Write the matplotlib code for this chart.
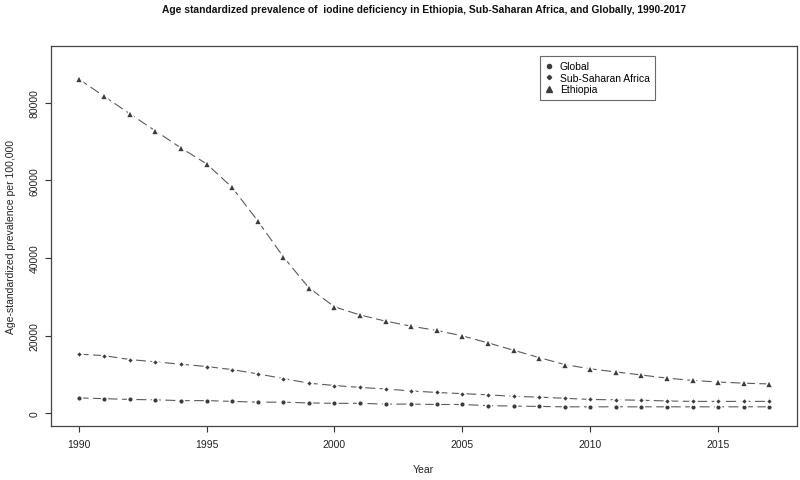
#!/usr/bin/env python3

import numpy as np
import matplotlib
matplotlib.use("Agg")
import matplotlib.pyplot as plt

plt.rcParams['font.family'] = ['Liberation Sans', 'DejaVu Sans']

# values (prevalence per 100,000)
years = list(range(1990, 2018))
ethiopia = [86200, 81700, 77200, 72800, 68400, 64300, 58200, 49600, 40300, 32300,
            27400, 25300, 23700, 22400, 21300, 19900, 18100, 16200, 14300, 12500,
            11400, 10600, 9800, 9000, 8400, 8000, 7700, 7500]
ssa = [15200, 14800, 13800, 13200, 12600, 12000, 11200, 10100, 8900, 7700,
       7100, 6600, 6200, 5700, 5300, 5000, 4700, 4300, 4100, 3800,
       3500, 3400, 3300, 3100, 3000, 3000, 3000, 3000]
glob = [3900, 3700, 3500, 3400, 3200, 3200, 3000, 2800, 2800, 2600,
        2500, 2500, 2300, 2300, 2200, 2200, 1900, 1800, 1700, 1600,
        1600, 1600, 1600, 1600, 1600, 1600, 1600, 1600]

x_ticks = [1990, 1995, 2000, 2005, 2010, 2015]
y_ticks = [0, 20000, 40000, 60000, 80000]

title = "Age standardized prevalence of  iodine deficiency in Ethiopia, Sub-Saharan Africa, and Globally, 1990-2017"

W, H = 800, 481
fig = plt.figure(figsize=(W/100, H/100), dpi=100)
ax = fig.add_axes([51/W, 1 - 427/H, 746/W, 380/H])

mark_col = "#3c3c3c"
line_col = "#5a5a5a"

def series(y, marker, ms, label):
    ax.plot(years, y, color=line_col, lw=0.8, linestyle=(0, (9, 4)), zorder=2)
    ax.plot(years, y, linestyle="none", marker=marker, ms=ms, color=mark_col,
            mec="white", mew=1.2, zorder=3)
    # proxy for legend without halo
    ax.plot([], [], linestyle="none", marker=marker, ms=ms - 1.2, color=mark_col, label=label)

series(glob, "o", 4.2, "Global")
series(ssa, "D", 3.4, "Sub-Saharan Africa")
series(ethiopia, "^", 5.3, "Ethiopia")

ax.set_xlim(1988.92, 2018.08)
ax.set_ylim(-3350, 94700)
ax.set_xticks(x_ticks)
ax.set_yticks(y_ticks)
ax.set_yticklabels([str(v) for v in y_ticks], rotation=90, va="center")
ax.tick_params(axis="both", direction="out", length=4.3, width=0.8, color="#333333",
               labelsize=7.5, labelcolor="#222222")
ax.tick_params(axis="x", pad=5)
ax.tick_params(axis="y", pad=4)
for s in ax.spines.values():
    s.set_color("#444444")
    s.set_linewidth(0.9)

fig.text(424/W, 1 - 10/H, title, ha="center", va="center", fontsize=7.4,
         fontweight="bold", color="#111111")
fig.text(423/W, 1 - 470/H, "Year", ha="center", va="center", fontsize=7.5, color="#222222")
fig.text(11/W, 1 - 237/H, "Age-standardized prevalence per 100,000", rotation=90,
         ha="center", va="center", fontsize=7.5, color="#222222")

leg = ax.legend(loc="upper left", bbox_to_anchor=((540 - 51)/746, (427 - 57)/380),
                fontsize=7.5, frameon=True, fancybox=False, borderpad=0.5,
                handlelength=0.8, handletextpad=0.6, labelspacing=0.15,
                borderaxespad=0)
leg.get_frame().set_edgecolor("#444444")
leg.get_frame().set_linewidth(0.8)

fig.savefig("out.png", dpi=100)
